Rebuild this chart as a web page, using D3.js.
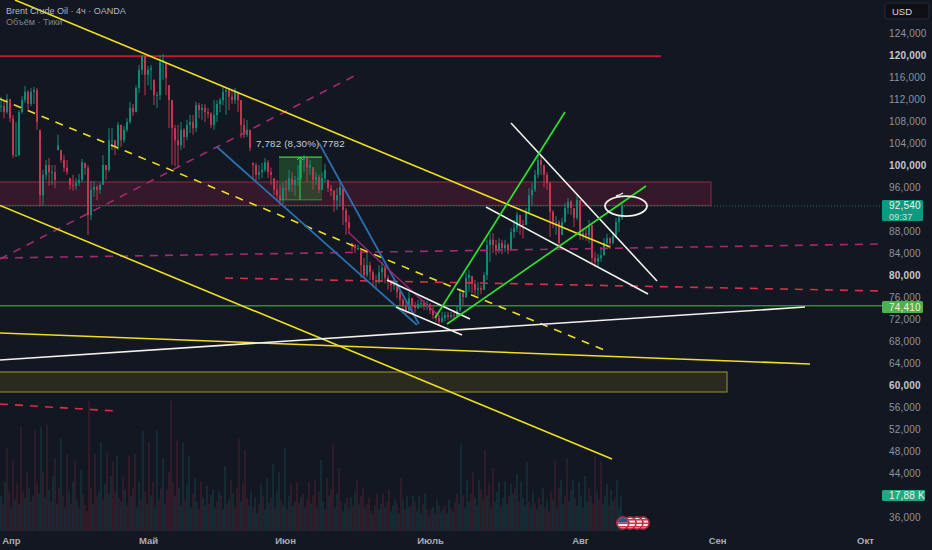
<!DOCTYPE html>
<html>
<head>
<meta charset="utf-8">
<script src="https://d3js.org/d3.v7.min.js"></script>
<style>
html, body { margin: 0; padding: 0; background: #121722; overflow: hidden; }
text { font-family: "Liberation Sans", Arial, sans-serif; }
</style>
</head>
<body>
<div id="chart"></div>
<script>
var svgWidth = 932;
var svgHeight = 550;

var closes = [110.7,109.6,112,108.5,101.8,101.8,109.6,111.8,113.3,111.1,113.3,113.6,107.8,94.5,98.2,100,98.7,98.7,97.3,103.6,100.9,99.5,98.7,96.4,96.2,96.7,97.3,100.5,99.5,90.9,95.5,96,95.5,96.4,100,99.1,104.5,104.5,103.5,107.3,104.5,106.4,107.8,110.4,109.6,114,117.3,119.8,116.4,117.3,117.6,112.7,112.7,118.7,119.1,115.8,111.8,106.7,104.5,103.6,106.4,105.1,107.3,107.8,106.7,110.9,110,110.4,109.6,109.3,107.3,109.1,111.1,111.8,113.3,113.6,112.4,111.8,113.3,111.8,107.3,105.5,106.4,103.1,100,98.2,98.7,99.1,100.5,98.7,98.2,95.5,94.5,93.6,95.8,95.5,97.6,96.4,97.3,97.6,100.9,101.3,99.5,100,97.3,97.8,95.5,97.6,99.1,95.8,95.3,93.6,94.5,96,91.8,89.6,88.5,85.5,84.9,84.9,81.8,80,81.8,80.5,79.1,78.7,80.5,81.3,79.5,78.7,78.2,78.2,76.9,75.5,74.5,73.6,75.8,74.4,74,74.7,74.9,74.5,74.7,73.6,72.7,72.2,71.5,72.2,72.7,72.4,72.7,72.5,73.6,76.7,76,79.5,80,78.4,77.3,77.6,77.3,80,85.5,86.4,85.5,84.5,85.8,84.9,85.5,84.5,87.8,88.5,90.9,89.3,89.1,91.5,94.5,95.5,98.2,100.9,100,98.2,96.7,91.5,89.6,89.6,85.8,89.6,92.2,93.3,92.2,90.4,93.6,87.3,87.6,87.3,89.1,83.1,82.4,83.1,83.6,85.8,86.7,85.8,87.1,89.6,90.4,92.54];
var highs = [112.4,111.8,112.9,112,109.1,107.8,110,112.5,114.4,113.6,114,114.2,114,106.4,99.1,100.9,101.3,100,100,105.5,102.7,101.8,100.9,97.6,98.2,97.6,98.4,101.1,100.4,100,97.1,97.1,96.4,96.7,101.8,100,106.7,106.7,104.5,107.8,107.3,107.1,108.5,111.5,111.1,114.5,118.2,120,120,118,118.2,115.5,113.3,120,120.2,118.7,114.5,111.8,107.3,107.3,107.8,106.7,108.2,109.1,109.1,111.5,111.3,111.1,111.1,110.4,109.6,111.8,111.8,112.2,114.2,114,114,113.6,114,113.3,111.8,108.5,108.2,106.4,100.4,100.4,100,100.4,101.3,100.9,99.5,97.6,97.3,96.4,96.7,97.3,99.1,98.7,98,100,101.5,101.8,101.5,100.9,99.6,98.7,98.2,98.7,100.2,97.3,96.4,95.5,95.8,97.3,95.8,92.2,90.9,85.8,85.6,85.5,84.5,83.1,84,82.4,80.9,80,81.8,82.4,81.6,80,79.1,79.1,78.2,77.3,75.8,75.1,76.9,75.8,75.1,75.5,75.8,75.5,75.3,74.9,74.2,73.3,72.5,73.3,73.3,73.3,73.3,73.6,74.5,77.6,77.3,80.5,80.9,79.8,79.1,78.7,78.2,80.5,86.4,87.6,87.6,86.4,86.7,86.4,86.4,85.8,88.5,90,91.5,90.9,90,92.2,95.8,96.7,99.1,102.4,101.8,100,98.7,96.9,91.8,90.7,90,90.4,93.1,94,93.6,92.2,94.4,93.6,88.5,88.5,90,89.1,84.2,83.8,85.1,86.7,87.5,86.9,87.8,90.4,90.9,92.9];
var lows = [109.6,108.5,109.3,107.8,101.3,101.5,101.6,109.3,111.3,110,110.7,111.1,106.4,92.5,92.7,97.3,96.2,96.4,95.8,102.7,100.4,98.7,98.2,95.5,95.3,95.5,96.2,96.9,98.2,87.3,90,94.2,93.6,94.7,96.4,97.3,98.7,102.7,101.8,102.7,103.3,104,106,107.5,108.9,109.6,113.1,116.4,112.7,114.5,113.6,110.9,110.4,111.8,115.5,112.7,106.7,100,99.8,99.5,102.7,103.1,104.5,105.8,105.5,106,108.5,108.2,107.8,108.5,106.7,106.4,107.8,109.6,110.9,109.1,110,111.1,111.1,109.6,104.9,104.9,105.1,102.5,97.3,96.9,97.3,97.6,98.7,97.6,96.4,94.5,93.6,92.7,92.9,93.6,95.1,95.1,94.4,96.2,97.3,98.7,96.9,98.2,95.5,96.4,94.9,95.5,96.9,95.1,94.4,91.5,91.8,92.5,89.1,87.3,87.5,84.5,84,84.5,79.5,79.5,79.6,79.1,77.8,77.3,78.4,79.1,78.5,77.3,76.9,77.3,75.8,74.5,73.3,72.9,73.3,73.5,73.1,73.8,74,73.6,73.6,72.9,72,71.5,70.9,71.3,71.6,71.8,72,72,72.4,73.3,74.5,75.8,76.9,76.7,76.4,76.2,76.5,77.3,79.1,82.4,84,83.6,84,83.8,84.2,83.8,84.5,86.7,87.8,87.3,86.7,89.1,91.1,92.7,95.1,97.6,98.2,96,95.5,86.9,88.5,87.3,84.9,87.3,89.6,91.1,90.9,88.7,90,86.4,86.4,86.2,85.8,82,81.5,81.3,82.4,83.5,85.1,84.7,85.6,86.7,87.8,90];

// volume in thousands of ticks, negative = down bar
var volumes = [18,-14,25,-42,-20,12,-36,16,-24,14,-53,-20,17,-30,22,-15,18,-51,-24,19,53,-30,17,-54,21,-15,28,-37,14,-22,47,-18,12,-39,20,-14,25,-36,16,-12,31,-19,-13,-10,-66,-22,14,-39,-18,20,45,-16,24,-40,19,28,-35,-20,38,-17,15,-28,21,-13,-38,18,-22,-39,12,25,-16,51,-20,14,-45,18,-25,12,51,-16,-22,37,14,-21,-30,-66,-25,18,-46,22,13,45,-16,24,38,12,-19,27,15,-11,-25,17,13,23,-14,18,21,12,-15,20,-18,11,33,-14,16,-26,19,-12,-22,-47,15,-24,-41,-17,13,20,-12,17,9,-14,24,-18,11,27,14,-17,34,-12,20,30,-16,13,42,-11,18,-24,13,15,-25,-14,17,-19,12,-16,-25,14,-18,-26,12,-20,36,15,-11,-27,18,-21,-44,12,19,-32,-15,10,14,-17,12,17,-13,20,-26,14,-18,-22,12,-14,-17,10,-9,-13,-19,11,14,-19,12,-15,-21,10,13,16,-14,9,-27,16,-11,18,12,-13,18,-15,10,18,9,-14,19,-11,8,-11,12,-9,16,-13,10,11,-13,9,16,-12,10,-15,-19,14,44,-18,12,26,15,-19,-30,17,13,26,-21,16,-41,18,-24,12,-32,15,20,25,-13,17,25,14,-18,24,19,-22,29,-15,25,17,13,35,-15,12,20,-14,11,-17,13,22,-12,16,-10,-20,16,-36,12,-22,26,14,-18,-37,15,21,26,-17,13,25,18,-12,28,15,-22,18,-14,-38,20,-16,-35,14,18,24,-13,21,15,-17,26,12,18];

var priceTicks = [124,120,116,112,108,104,100,96,88,84,80,76,72,68,64,60,56,52,48,44,36];
var boldTicks = [120,100,80,60];
var monthBars = [3.3,49,94.7,143,193,238.7,288];
var monthLabels = ["Апр","Май","Июн","Июль","Авг","Сен","Окт"];
var eventBars = [207.3,209.7,212,214];

// drawings, as [bar, price, bar, price]
var yellowLines = [[4.67,130,203,85.09],[-0.33,92.64,203.67,46.55],[-0.33,69.45,269.67,63.82]];
var yellowDashed = [[-0.33,112,202.67,66]];
var magentaDashed = [[-0.33,82.91,118.33,116.36],[-0.33,83.09,294,85.64]];
var redDashed = [[74.67,79.45,294,77.09],[-0.33,56.55,38.33,55.27]];
var blueLines = [[72,103.27,138.67,70.91],[106,104,139.33,71.09]];
var purpleLines = [[115.67,87.82,146.33,72.36]];
var whiteLines = [[-0.33,64.55,268,74.18],[128.67,79.09,156.33,72],[131.67,74.18,153.67,69.09],[170,107.64,218.67,78.91],[161.67,92.36,215.67,76.55]];
var greenLines = [[144.67,72.18,188,109.64],[148.67,71.09,215,96.18]];

var lastPrice = 92.54;
var levelPrice = 74.41;
var resistancePrice = 119.8;
var redZone = [-1,96.91,236.67,92.64];
var yellowZone = [-1,62.36,242,58.73];
var measureBox = [92.67,101.45,107,93.67];

var svg = d3.select("#chart").append("svg")
    .attr("width", svgWidth)
    .attr("height", svgHeight)
    .style("display", "block");

var x = d3.scaleLinear().domain([0, 310]).range([1, 931]);
var y = d3.scaleLinear().domain([120, 36]).range([55, 517]);
var volumeX = d3.scaleLinear().domain([0, 310]).range([1, 621]);
var volumeY = d3.scaleLinear().domain([0, 66]).range([531, 401]);

// volume
svg.append("g").selectAll("rect")
    .data(volumes)
    .enter()
    .append("rect")
    .attr("x", (d, i) => volumeX(i) - 0.7)
    .attr("width", 1.4)
    .attr("y", d => volumeY(Math.abs(d)))
    .attr("height", d => 531 - volumeY(Math.abs(d)))
    .attr("fill", d => d > 0 ? "#16363d" : "#3f1f2c");

// zones
function zone(z, fill, stroke) {
    svg.append("rect")
        .attr("x", x(z[0])).attr("y", y(z[1]))
        .attr("width", x(z[2]) - x(z[0])).attr("height", y(z[3]) - y(z[1]))
        .attr("fill", fill).attr("stroke", stroke).attr("stroke-width", 1.2);
}
zone(redZone, "#33192a", "#7d2a40");
zone(yellowZone, "#2a2a1f", "#86862c");

// last price dotted line
svg.append("line")
    .attr("x1", 0).attr("x2", 882).attr("y1", y(lastPrice)).attr("y2", y(lastPrice))
    .attr("stroke", "#1c7466").attr("stroke-dasharray", "1 2");

// horizontal levels
svg.append("line")
    .attr("x1", 0).attr("x2", x(220)).attr("y1", y(resistancePrice)).attr("y2", y(resistancePrice))
    .attr("stroke", "#c4182c").attr("stroke-width", 1.6);
svg.append("line")
    .attr("x1", 0).attr("x2", x(294)).attr("y1", y(levelPrice)).attr("y2", y(levelPrice))
    .attr("stroke", "#338a30").attr("stroke-width", 1.4);

// measure box
svg.append("rect")
    .attr("x", x(measureBox[0])).attr("y", y(measureBox[1]))
    .attr("width", x(measureBox[2]) - x(measureBox[0])).attr("height", y(measureBox[3]) - y(measureBox[1]))
    .attr("fill", "#2e7d32").attr("fill-opacity", 0.42);

// candles
var candles = closes.map(function(c, i) {
    var prev = i > 0 ? closes[i - 1] : c;
    return {i: i, open: Math.max(lows[i], Math.min(highs[i], prev)), close: c, high: highs[i], low: lows[i]};
});
var upColor = "#0e8b76";
var downColor = "#c7344f";
var candleG = svg.append("g");
candleG.selectAll("line")
    .data(candles)
    .enter()
    .append("line")
    .attr("x1", d => x(d.i))
    .attr("x2", d => x(d.i))
    .attr("y1", d => y(d.high))
    .attr("y2", d => y(d.low))
    .attr("stroke", d => d.close >= d.open ? upColor : downColor)
    .attr("stroke-width", 1);
candleG.selectAll("rect")
    .data(candles)
    .enter()
    .append("rect")
    .attr("x", d => x(d.i) - 1)
    .attr("width", 2)
    .attr("y", d => y(Math.max(d.open, d.close)))
    .attr("height", d => Math.max(1, Math.abs(y(d.open) - y(d.close))))
    .attr("fill", d => d.close >= d.open ? upColor : downColor);

// measure box edges and arrow
var boxG = svg.append("g").attr("stroke", "#3fd43f");
boxG.append("line").attr("x1", x(measureBox[0])).attr("x2", x(measureBox[2])).attr("y1", y(measureBox[1])).attr("y2", y(measureBox[1])).attr("stroke-width", 1.3);
boxG.append("line").attr("x1", x(measureBox[0])).attr("x2", x(measureBox[2])).attr("y1", y(measureBox[3])).attr("y2", y(measureBox[3])).attr("stroke", "#3c8f3c");
boxG.append("line").attr("x1", x(99.67)).attr("x2", x(99.67)).attr("y1", y(measureBox[3])).attr("y2", y(measureBox[1]));
boxG.append("path").attr("fill", "none")
    .attr("d", "M" + (x(99.67) - 3) + "," + (y(measureBox[1]) + 3) + "L" + x(99.67) + "," + y(measureBox[1]) + "L" + (x(99.67) + 3) + "," + (y(measureBox[1]) + 3));

// trend lines
function drawLines(data, color, width, dash) {
    svg.append("g").selectAll("line")
        .data(data)
        .enter()
        .append("line")
        .attr("x1", d => x(d[0]))
        .attr("y1", d => y(d[1]))
        .attr("x2", d => x(d[2]))
        .attr("y2", d => y(d[3]))
        .attr("stroke", color)
        .attr("stroke-width", width)
        .attr("stroke-dasharray", dash || null);
}
drawLines(magentaDashed, "#a32a6e", 1.6, "8 7");
drawLines(redDashed, "#d92e45", 1.6, "8 7");
drawLines(yellowDashed, "#efdf20", 1.6, "8 7");
drawLines(yellowLines, "#efdf20", 1.6);
drawLines(blueLines, "#2a6fad", 1.8);
drawLines(purpleLines, "#a3246f", 1.4);
drawLines(whiteLines, "#f2f2ea", 1.6);
drawLines(greenLines, "#2ee02e", 1.7);

// ellipse marker around the last price
svg.append("ellipse")
    .attr("cx", x(208.33)).attr("cy", y(lastPrice))
    .attr("rx", 21).attr("ry", 10)
    .attr("fill", "none").attr("stroke", "#f2f2ea").attr("stroke-width", 1.8);
svg.append("path")
    .attr("d", "M" + x(205) + "," + (y(lastPrice) - 10) + "q4,-1 7,-3")
    .attr("fill", "none").attr("stroke", "#f2f2ea").attr("stroke-width", 1.4);

// measure label
svg.append("text")
    .attr("x", 256).attr("y", 146.5)
    .attr("fill", "#c9cbd0").attr("font-size", 9.8).attr("letter-spacing", 0.15)
    .text("7,782 (8,30%) 7782");

// axes
var yAxis = d3.axisRight(y)
    .tickValues(priceTicks)
    .tickSize(0)
    .tickFormat(d => d3.format(".3f")(d).replace(".", ","));
var yG = svg.append("g").attr("transform", "translate(881,0)").call(yAxis);
yG.select(".domain").remove();
yG.selectAll("text")
    .attr("x", 8)
    .attr("font-size", 10)
    .attr("letter-spacing", 0.2)
    .attr("font-family", "Liberation Sans")
    .attr("font-weight", d => boldTicks.indexOf(d) >= 0 ? "bold" : "normal")
    .attr("fill", d => boldTicks.indexOf(d) >= 0 ? "#c4c6cc" : "#8f939d");

var xAxis = d3.axisBottom(x)
    .tickValues(monthBars)
    .tickSize(0)
    .tickFormat((d, i) => monthLabels[i]);
var xG = svg.append("g").attr("transform", "translate(0,534)").call(xAxis);
xG.select(".domain").remove();
xG.selectAll("text")
    .attr("font-size", 9.5)
    .attr("font-weight", "bold")
    .attr("font-family", "Liberation Sans")
    .attr("fill", "#a9acb4");

// header
svg.append("text").attr("x", 6).attr("y", 13.5)
    .attr("fill", "#b4b7bf").attr("font-size", 9)
    .text("Brent Crude Oil · 4ч · OANDA");
svg.append("text").attr("x", 6).attr("y", 24.5)
    .attr("fill", "#7f838e").attr("font-size", 9.1)
    .text("Объём · Тики");

// USD button
svg.append("rect").attr("x", 885).attr("y", 3).attr("width", 44).attr("height", 16).attr("rx", 3)
    .attr("fill", "#0e1016").attr("stroke", "#272b36");
svg.append("text").attr("x", 892).attr("y", 14.5).attr("fill", "#d9dade").attr("font-size", 9.5).text("USD");

// price labels on the axis
function priceBox(top, h, fill, w) {
    svg.append("rect").attr("x", 882).attr("y", top).attr("width", w).attr("height", h).attr("rx", 1.5).attr("fill", fill);
}
priceBox(200, 21, "#0c9a82", 41);
priceBox(301, 12, "#4caf50", 41);
priceBox(490, 11, "#1fa983", 43);
var boxText = svg.append("g").attr("fill", "#eef3df").attr("font-size", 10).attr("letter-spacing", 0.2);
boxText.append("text").attr("x", 889).attr("y", 208.5).text("92,540");
boxText.append("text").attr("x", 889).attr("y", 219.5).attr("font-size", 9).attr("fill", "#cfe6c8").text("09:37");
boxText.append("text").attr("x", 889).attr("y", 311).text("74,410");
boxText.append("text").attr("x", 889).attr("y", 499).text("17,88 K");

// economic event flags
var flagG = svg.append("g");
var flagY = 523;
var defs = svg.append("defs");
eventBars.slice().reverse().forEach(function(b, k) {
    var cx = x(b);
    var id = "flag" + k;
    defs.append("clipPath").attr("id", id).append("circle").attr("cx", cx).attr("cy", flagY).attr("r", 5.2);
    flagG.append("circle").attr("cx", cx).attr("cy", flagY).attr("r", 6.3).attr("fill", "#8c1d34").attr("stroke", "#d0314c").attr("stroke-width", 1);
    var f = flagG.append("g").attr("clip-path", "url(#" + id + ")");
    f.append("rect").attr("x", cx - 6).attr("y", flagY - 6).attr("width", 12).attr("height", 12).attr("fill", "#f4f4f4");
    [-4, -0.5, 3].forEach(function(o) {
        f.append("rect").attr("x", cx - 6).attr("y", flagY + o).attr("width", 12).attr("height", 1.6).attr("fill", "#d8304a");
    });
    if (k === eventBars.length - 1) {
        f.append("rect").attr("x", cx - 6).attr("y", flagY - 6).attr("width", 12).attr("height", 5.5).attr("fill", "#2f4f8f");
    }
});
</script>
</body>
</html>
